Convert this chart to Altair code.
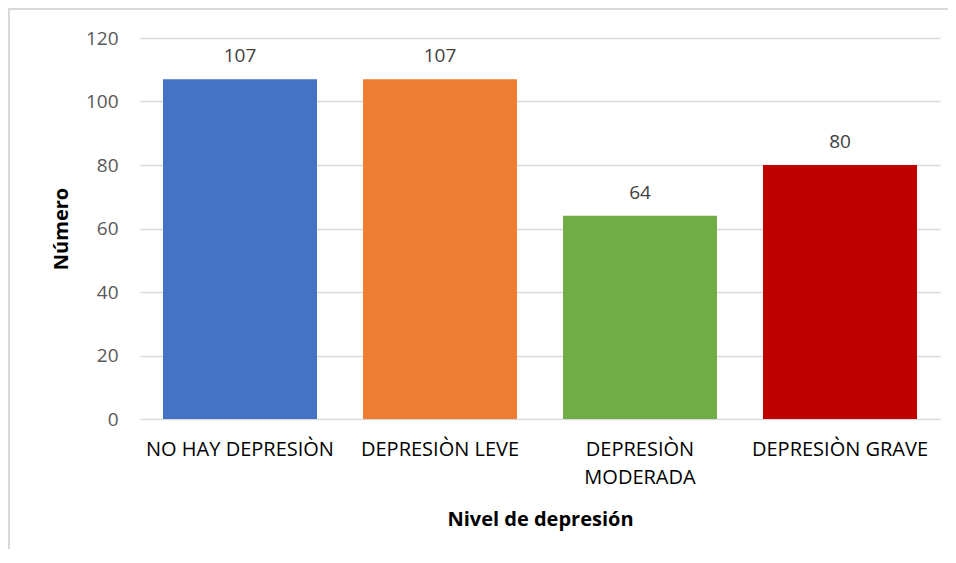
import altair as alt
import pandas as pd

categories = ["NO HAY DEPRESIÒN", "DEPRESIÒN LEVE", "DEPRESIÒN MODERADA", "DEPRESIÒN GRAVE"]
values = [107, 107, 64, 80]
colors = ["#4472C4", "#ED7D31", "#70AD47", "#C00000"]
y_ticks = [0, 20, 40, 60, 80, 100, 120]

df = pd.DataFrame({"cat": categories, "val": values})

FONT = "Open Sans, sans-serif"

x_enc = alt.X(
    "cat:N",
    sort=categories,
    title="Nivel de depresión",
    scale=alt.Scale(paddingInner=0.23, paddingOuter=0.115),
    axis=alt.Axis(
        labelAngle=0,
        ticks=False,
        domain=False,
        labelPadding=20,
        labelFontSize=20,
        labelColor="#000000",
        labelFont=FONT,
        labelLineHeight=28,
        labelExpr="datum.value == 'DEPRESIÒN MODERADA' ? ['DEPRESIÒN', 'MODERADA'] : datum.label",
        labelLimit=400,
        titleFontSize=20,
        titleFont=FONT,
        titleFontWeight="bold",
        titleColor="#000000",
        titlePadding=22,
    ),
)

y_enc = alt.Y(
    "val:Q",
    title="Número",
    scale=alt.Scale(domain=[0, 120], nice=False),
    axis=alt.Axis(
        values=y_ticks,
        ticks=False,
        domain=False,
        grid=True,
        gridColor="#D9D9D9",
        gridWidth=1.5,
        labelPadding=22,
        labelFontSize=19,
        labelColor="#595959",
        labelFont=FONT,
        titleFontSize=20,
        titleFont=FONT,
        titleFontWeight="bold",
        titleColor="#000000",
        titlePadding=14,
    ),
)

bars = alt.Chart(df).mark_bar().encode(
    x=x_enc,
    y=y_enc,
    color=alt.Color("cat:N", scale=alt.Scale(domain=categories, range=colors), legend=None),
)

labels = alt.Chart(df).mark_text(
    baseline="alphabetic", dy=-17, fontSize=19, color="#404040", font=FONT
).encode(
    x=alt.X("cat:N", sort=categories),
    y="val:Q",
    text="val:Q",
)

frame_top = alt.Chart(df).mark_rule(color="#D9D9D9", strokeWidth=2).encode(
    x=alt.value(-132), x2=alt.value(820), y=alt.value(-29)
)
frame_left = alt.Chart(df).mark_rule(color="#D9D9D9", strokeWidth=2).encode(
    x=alt.value(-131), y=alt.value(-30), y2=alt.value(520)
)

chart = alt.layer(frame_top, frame_left, bars, labels).properties(
    width=800,
    height=381,
    autosize=alt.AutoSizeParams(type="none"),
    padding={"left": 132, "top": 30, "right": 8, "bottom": 130},
).configure_view(stroke=None)

chart.save("out.html", embed_options={"renderer": "svg", "actions": False})
